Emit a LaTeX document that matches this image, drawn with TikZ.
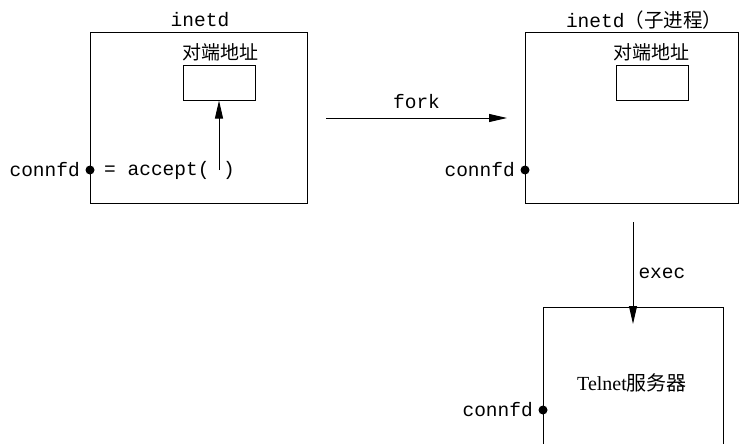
\documentclass[tikz,border=0pt]{standalone}
\usepackage{fontspec}
\setmainfont{Liberation Serif}
\setmonofont{Liberation Mono}
\newfontfamily\cjk{Noto Sans CJK SC}
\usetikzlibrary{arrows.meta}
\begin{document}
\begin{tikzpicture}[x=1pt,y=-1pt,
  proc/.style={draw, line width=1pt, minimum width=#1, inner sep=0pt, anchor=north west},
  slot/.style={draw, line width=1pt, minimum width=72pt, minimum height=34pt, inner sep=0pt},
  tt/.style={font=\fontsize{19.5}{22}\selectfont\ttfamily, inner sep=0pt},
  zh/.style={font=\fontsize{19}{22}\selectfont\cjk, inner sep=0pt},
  dot/.style={circle, fill=black, inner sep=0pt, minimum size=9pt},
  arr/.style={line width=1pt, -{Triangle[length=18pt,width=8pt]}}]
\useasboundingbox (0,0) rectangle (739,444);
% process 1
\node[proc=217pt, minimum height=171pt] (p1) at (90,32) {};
\node[tt] (t1) at (200,20) {inetd};
\node[zh] (z1) at (220,52) {对端地址};
\node[slot] (q1) at (219,83) {};
\node[dot] (d1) at (90,170) {};
\node[tt, anchor=east] (c1) at (80,170) {connfd};
\node[tt, anchor=west] (acc) at (104,170) {= accept(};
\node[tt] (par) at (229,170) {)};
\coordinate (a0) at (219,170);
\draw[arr] (a0) -- (q1.south);
% process 2
\node[proc=213pt, minimum height=171pt] (p2) at (525,32) {};
\node[tt] (t2) at (644,20) {inetd{\cjk （子进程）}};
\node[zh] (z2) at (651,52) {对端地址};
\node[slot] (q2) at (652.5,83) {};
\node[dot] (d2) at (525,170) {};
\node[tt, anchor=east] (c2) at (515,170) {connfd};
% fork
\draw[arr] ([xshift=18pt]p1.east) -- node[tt, above=9pt] (fk) {fork} ([xshift=-18pt]p2.west);
% process 3
\node[proc=180pt, minimum height=160pt] (p3) at (543,307) {};
\node[font=\fontsize{20}{24}\selectfont, inner sep=0pt] (tn) at (632,383) {Telnet{\cjk 服务器}};
\node[dot] (d3) at (543,410) {};
\node[tt, anchor=east] (c3) at (533,410) {connfd};
% exec
\coordinate (e0) at (633,222);
\draw[arr] (e0) -- node[tt, right=5pt] (ex) {exec} ([yshift=-17pt]p3.north -| e0);
\end{tikzpicture}
\end{document}
